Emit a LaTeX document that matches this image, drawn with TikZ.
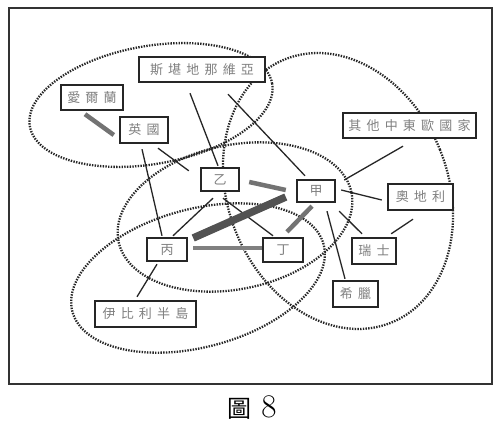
\documentclass[tikz,border=0pt]{standalone}
\usepackage{fontspec}
\newfontfamily\cjk[LetterSpace=40]{Noto Sans CJK TC}
\newfontfamily\cjkcap{Noto Sans CJK TC}
\usetikzlibrary{calc}
\begin{document}
\begin{tikzpicture}[x=1pt,y=-1pt,
  box/.style={draw=black!85,line width=2.4pt,fill=white,inner sep=0pt,
    text=black!50,font=\cjk\fontsize{13pt}{13pt}\selectfont},
  dotline/.style={draw=black!85,line width=2.3pt,dash pattern=on 1.4pt off 1.3pt},
  conn/.style={draw=black!85,line width=1.3pt},
  thick1/.style={draw=black!55,line width=4.5pt},
  thick2/.style={draw=black!68,line width=7.5pt},
  thick3/.style={draw=black!50,line width=4.5pt}]
\useasboundingbox (0,0) rectangle (504,426);
\fill[white] (0,0) rectangle (504,426);
% frame
\draw[black!80,line width=2.5pt] (9,8) rectangle (492,384);
% dotted ellipses
\draw[dotline,rotate around={10:(151,105)}] (151,105) ellipse [x radius=123pt,y radius=59pt];
\draw[dotline,rotate around={22:(338,191)}] (338,191) ellipse [x radius=110pt,y radius=142pt];
\draw[dotline,rotate around={12:(235,217)}] (235,217) ellipse [x radius=119pt,y radius=72pt];
\draw[dotline,rotate around={15:(198,278)}] (198,278) ellipse [x radius=130pt,y radius=69pt];
% boxes
\node[box,minimum width=126pt,minimum height=25pt] (scan) at (202,69.5) {斯堪地那維亞};
\node[box,minimum width=62pt,minimum height=25pt] (ire) at (92,97.5) {愛爾蘭};
\node[box,minimum width=48pt,minimum height=26pt] (uk) at (144,130) {英國};
\node[box,minimum width=133pt,minimum height=25pt] (ce) at (409.5,125.5) {其他中東歐國家};
\node[box,minimum width=38pt,minimum height=23pt] (yi) at (220,179.5) {乙};
\node[box,minimum width=38pt,minimum height=22pt] (jia) at (316,191) {甲};
\node[box,minimum width=65pt,minimum height=26pt] (aus) at (420.5,197) {奧地利};
\node[box,minimum width=40pt,minimum height=23pt] (bing) at (167,249.5) {丙};
\node[box,minimum width=40pt,minimum height=24pt] (ding) at (283,250) {丁};
\node[box,minimum width=44pt,minimum height=26pt] (swi) at (374,251) {瑞士};
\node[box,minimum width=45pt,minimum height=26pt] (gre) at (355.5,294) {希臘};
\node[box,minimum width=101pt,minimum height=26pt] (ibe) at (145.5,314) {伊比利半島};
% thin connectors
\draw[conn] ($(scan.south)+(-12,10)$) -- ($(yi.north)+(-2,-1)$);
\draw[conn] ($(scan.south)+(26,11)$) -- ($(jia.north)+(-11,-3)$);
\draw[conn] ($(uk.south)+(-2,5)$) -- ($(bing.north)+(-5,-1)$);
\draw[conn] ($(uk.south)+(14,4)$) -- ($(yi.north west)+(-11,4)$);
\draw[conn] ($(yi.south)+(-7,6)$) -- ($(bing.north)+(6,-1)$);
\draw[conn] ($(yi.south)+(3,6)$) -- ($(ding.north)+(-10,-1)$);
\draw[conn] ($(ce.south)+(-6.5,7)$) -- ($(jia.east)+(8,-11)$);
\draw[conn] ($(jia.east)+(5,-1)$) -- ($(aus.west)+(-5,3)$);
\draw[conn] ($(jia.south east)+(3,8)$) -- ($(swi.north)+(-12,-3)$);
\draw[conn] ($(jia.south)+(11,8)$) -- ($(gre.north)+(-10.5,-1)$);
\draw[conn] ($(aus.south)+(-7.5,8)$) -- ($(swi.north east)+(-6,-3)$);
\draw[conn] ($(bing.south)+(-10,2)$) -- ($(ibe.north)+(-8.5,-3)$);
% thick connectors
\draw[thick1] ($(ire.south)+(-7,3)$) -- ($(uk.west)+(-5,5)$);
\draw[thick1] ($(yi.east)+(9,2.5)$) -- ($(jia.west)+(-10,-1)$);
\draw[thick2] ($(bing.east)+(5,-11.5)$) -- ($(jia.west)+(-10,6)$);
\draw[thick3] ($(bing.east)+(5,-1.5)$) -- ($(ding.west)+(0,-2)$);
\draw[thick1] ($(ding.north)+(4,-5)$) -- ($(jia.south)+(-4,3)$);
% caption
\node[inner sep=0pt] (cap) at (252,408) {{\cjkcap\fontsize{24pt}{24pt}\selectfont 圖}\hspace{10pt}{\fontsize{33pt}{33pt}\selectfont 8}};
\end{tikzpicture}
\end{document}
